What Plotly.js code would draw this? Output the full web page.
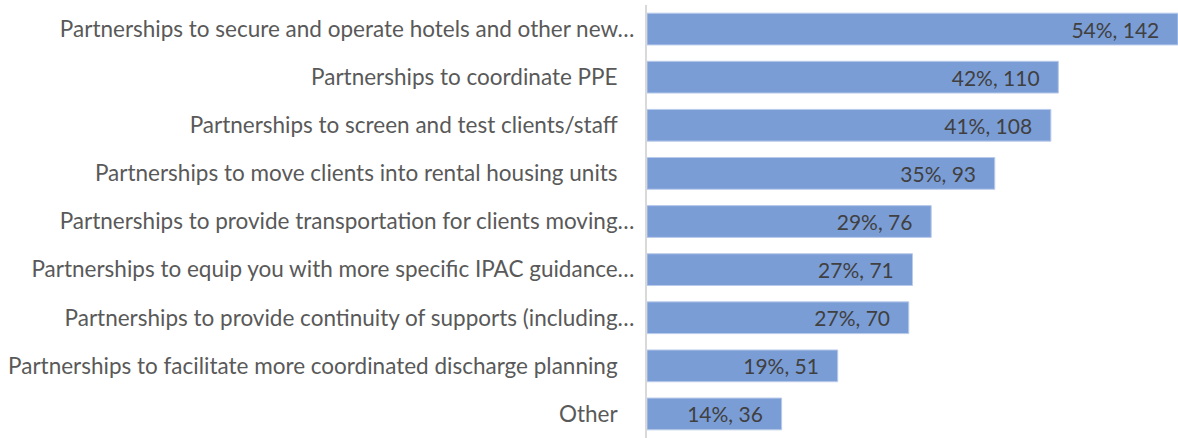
<!DOCTYPE html>
<html>
<head>
<meta charset="utf-8">
<script src="https://cdn.plot.ly/plotly-3.0.1.min.js"></script>
<style>html,body{margin:0;padding:0;background:#fff;}#chart{width:1178px;height:438px;}</style>
</head>
<body>
<div id="chart"></div>
<script>
const categories = [
  "Partnerships to secure and operate hotels and other new…",
  "Partnerships to coordinate PPE",
  "Partnerships to screen and test clients/staff",
  "Partnerships to move clients into rental housing units",
  "Partnerships to provide transportation for clients moving…",
  "Partnerships to equip you with more specific IPAC guidance…",
  "Partnerships to provide continuity of supports (including…",
  "Partnerships to facilitate more coordinated discharge planning",
  "Other"
];
const counts = [142, 110, 108, 93, 76, 71, 70, 51, 36];
const percents = ["54%", "42%", "41%", "35%", "29%", "27%", "27%", "19%", "14%"];

const labels = counts.map((c, i) => percents[i] + ", " + c + "\u2003");
const tickText = categories.map(c => c.endsWith("…") ? c : c + "\u2003");

const trace = {
  type: "bar",
  orientation: "h",
  y: categories,
  x: counts,
  text: labels,
  textposition: "inside",
  insidetextanchor: "end",
  textangle: 0,
  insidetextfont: {family: "Lato, 'Open Sans', sans-serif", size: 21, color: "#404040"},
  marker: {color: "#7b9dd6", line: {color: "#b9cbea", width: 1}},
  hoverinfo: "none",
  cliponaxis: false
};

const layout = {
  width: 1178,
  height: 438,
  margin: {l: 647, r: 0, t: 5, b: 0, pad: 0},
  paper_bgcolor: "#ffffff",
  plot_bgcolor: "#ffffff",
  bargap: 0.34,
  showlegend: false,
  font: {family: "Lato, 'Open Sans', sans-serif", color: "#595959"},
  xaxis: {
    range: [0, 142],
    showgrid: false,
    zeroline: false,
    showticklabels: false,
    showline: false,
    fixedrange: true
  },
  yaxis: {
    autorange: "reversed",
    tickmode: "array",
    tickvals: categories,
    ticktext: tickText,
    tickfont: {family: "Lato, 'Open Sans', sans-serif", size: 22.5, color: "#595959"},
    showline: true,
    linecolor: "#d9d9d9",
    linewidth: 2,
    ticks: "",
    ticklabelstandoff: 6,
    showgrid: false,
    fixedrange: true
  }
};

Plotly.newPlot("chart", [trace], layout, {displayModeBar: false, staticPlot: true});
</script>
</body>
</html>
